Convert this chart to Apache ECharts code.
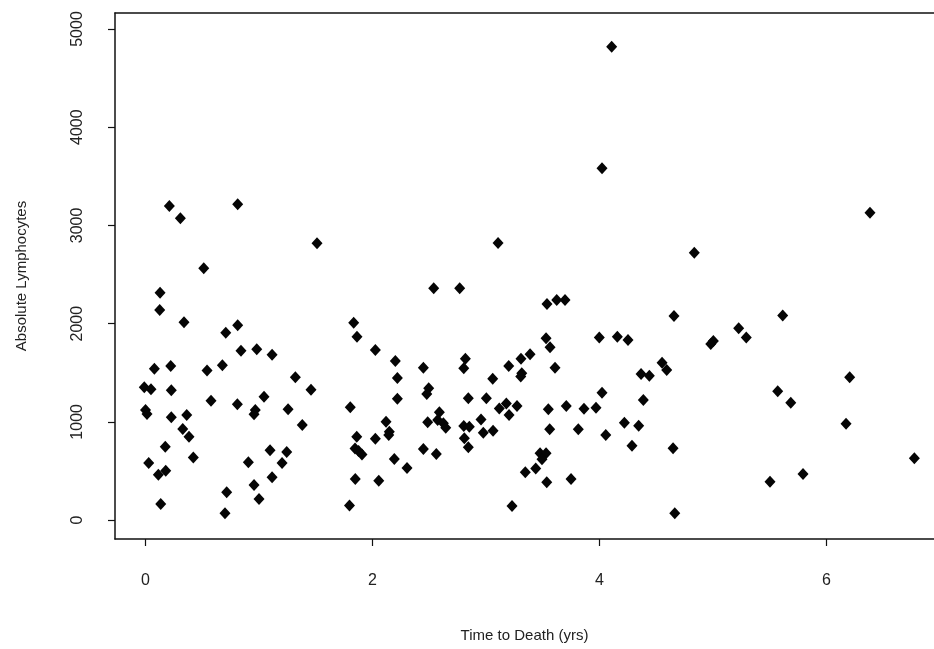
<!DOCTYPE html>
<html>
<head>
<meta charset="utf-8">
<script src="https://cdn.jsdelivr.net/npm/echarts@6/dist/echarts.min.js"></script>
<style>
html,body{margin:0;padding:0;background:#fff;}
#chart{width:934px;height:649px;}
</style>
</head>
<body>
<div id="chart"></div>
<script>
// Time to death (yrs)
const timeYrs = [
0.210,0.307,0.812,1.511,0.513,0.128,0.125,0.339,0.707,0.812,0.841,0.980,1.115,1.834,1.863,
0.078,0.222,0.542,0.677,1.320,1.458,-0.011,0.048,0.227,0.577,0.809,0.967,0.956,1.044,1.256,
1.381,0.000,0.013,0.227,0.363,0.328,0.383,0.174,0.421,0.028,0.113,0.178,0.134,0.715,0.700,
0.906,0.956,1.000,1.097,1.244,1.203,1.115,1.804,1.861,1.846,1.877,1.907,1.848,1.797,2.539,
2.768,2.025,2.201,2.219,2.219,2.448,2.495,2.478,2.818,2.804,3.059,3.200,3.308,3.388,3.315,
3.306,3.537,3.623,3.696,3.529,3.564,3.608,2.844,3.003,3.117,3.179,3.203,3.273,3.549,3.707,
3.561,3.813,2.025,2.119,2.148,2.143,2.486,2.589,2.574,2.624,2.645,2.448,2.562,2.192,2.304,
2.055,2.804,2.853,2.809,2.844,2.956,2.976,3.062,3.346,3.438,3.476,3.529,3.493,3.535,3.749,
3.229,4.656,5.614,3.998,4.157,4.251,5.003,4.980,5.226,5.293,4.551,4.592,4.366,4.439,6.204,
4.022,4.386,5.570,5.685,3.863,3.969,4.055,4.219,4.345,4.286,4.648,6.172,6.774,5.502,5.793,
4.663,4.107,4.022,6.383,4.835,3.106
];
// Absolute lymphocytes
const lymphocytes = [
3198,3072,3215,2818,2563,2315,2138,2013,1907,1983,1724,1738,1683,2009,1867,
1541,1568,1524,1575,1453,1327,1351,1331,1321,1215,1178,1120,1076,1256,1127,
967,1120,1079,1046,1069,927,848,746,638,580,461,502,163,282,68,
588,356,214,710,692,580,435,1148,848,728,703,667,418,148,2359,
2359,1731,1619,1446,1235,1551,1341,1283,1643,1545,1439,1568,1643,1687,1494,
1461,2200,2240,2240,1850,1759,1551,1239,1239,1137,1188,1069,1161,1127,1161,
924,924,828,1001,899,866,995,1097,1018,985,940,723,672,621,530,
400,957,950,832,740,1025,889,909,486,526,679,679,618,384,418,
143,2077,2084,1860,1867,1833,1823,1792,1952,1860,1602,1527,1487,1469,1453,
1296,1222,1311,1194,1133,1144,866,991,960,757,730,981,628,390,468,
68,4820,3581,3129,2722,2821
];
const xTicks = [0, 2, 4, 6];
const yTicks = [0, 1000, 2000, 3000, 4000, 5000];
const xTitle = 'Time to Death (yrs)';
const yTitle = 'Absolute Lymphocytes';

const points = timeYrs.map((t, i) => [t, lymphocytes[i]]);
const FONT = 'Liberation Sans, Arial, Helvetica, sans-serif';
const LINE = {color: '#111', width: 1.5};

const chart = echarts.init(document.getElementById('chart'), null, {renderer: 'canvas'});
chart.setOption({
  animation: false,
  backgroundColor: '#ffffff',
  grid: {left: 115, top: 13, width: 819, height: 526, show: false},
  xAxis: [{
    type: 'value', min: -0.269, max: 6.947, position: 'bottom',
    splitLine: {show: false},
    axisLine: {show: true, onZero: false, lineStyle: LINE},
    axisTick: {show: true, inside: false, length: 7, lineStyle: {color: '#111', width: 1.2}, customValues: xTicks},
    axisLabel: {
      customValues: xTicks, margin: 34, color: '#222', fontSize: 16, fontFamily: FONT,
      formatter: v => String(v)
    },
    name: xTitle, nameLocation: 'middle', nameGap: 89,
    nameTextStyle: {color: '#222', fontSize: 15, fontFamily: FONT}
  }, {
    type: 'value', min: -0.269, max: 6.947, position: 'top',
    splitLine: {show: false},
    axisLine: {show: true, onZero: false, lineStyle: LINE},
    axisTick: {show: false}, axisLabel: {show: false}
  }],
  yAxis: {
    type: 'value', min: -193, max: 5163,
    splitLine: {show: false},
    axisLine: {show: true, onZero: false, lineStyle: LINE},
    axisTick: {show: true, inside: false, length: 7, lineStyle: {color: '#111', width: 1.2}, customValues: yTicks},
    axisLabel: {
      customValues: yTicks, rotate: 90, margin: 29, color: '#222', fontSize: 16, fontFamily: FONT,
      formatter: v => String(v)
    },
    name: yTitle, nameLocation: 'middle', nameGap: 86, nameRotate: 90,
    nameTextStyle: {color: '#222', fontSize: 15, fontFamily: FONT}
  },
  series: [{
    type: 'scatter',
    xAxisIndex: 0,
    data: points,
    symbol: 'diamond',
    symbolSize: [11, 12],
    itemStyle: {color: '#050505', opacity: 1},
    clip: false
  }]
});
</script>
</body>
</html>
